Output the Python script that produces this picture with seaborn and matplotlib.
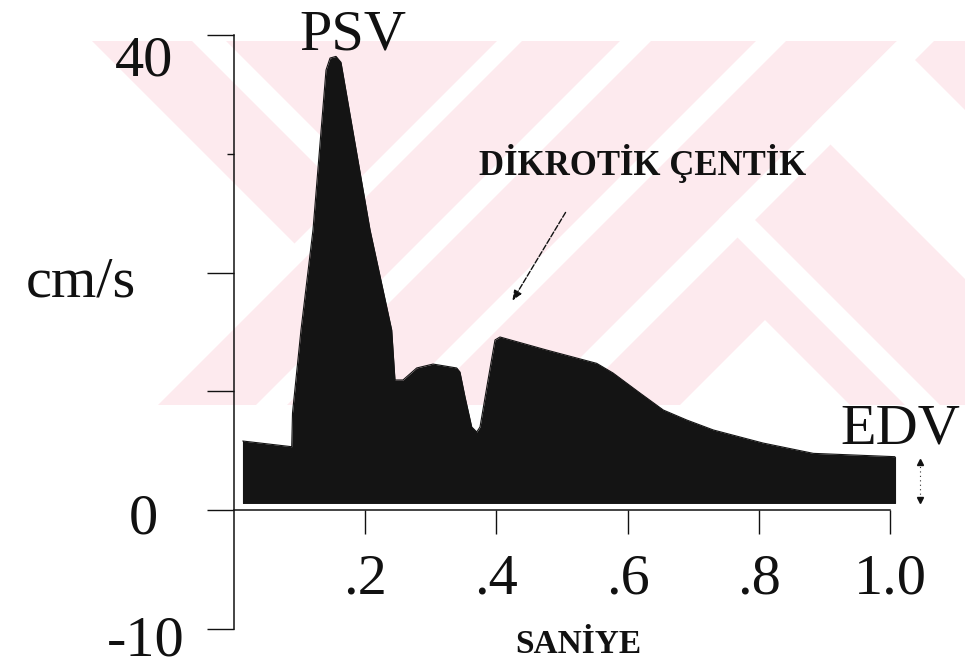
import matplotlib
matplotlib.use("Agg")
import matplotlib.pyplot as plt
from matplotlib.patches import Rectangle, Polygon
import seaborn as sns
import pandas as pd

# ---------------- data ----------------
time_s = [0.014, 0.0886, 0.0898, 0.1027, 0.121, 0.1408, 0.1469, 0.156, 0.1636,
          0.2078, 0.2408, 0.2458, 0.258, 0.2788, 0.3037, 0.3397, 0.3447, 0.3524,
          0.3626, 0.3702, 0.3752, 0.3874, 0.398, 0.4056, 0.4767, 0.5528, 0.5776,
          0.6187, 0.6542, 0.6898, 0.7303, 0.8059, 0.8825, 1.0068]
velocity_cms = [5.81, 5.33, 8.17, 15.16, 23.6, 37.05, 38.06, 38.2, 37.7,
                23.6, 15.16, 10.95, 10.95, 11.96, 12.29, 11.96, 11.62, 9.52,
                6.99, 6.57, 6.99, 10.95, 14.32, 14.57, 13.47, 12.35, 11.54,
                9.85, 8.42, 7.58, 6.74, 5.64, 4.77, 4.49]
baseline_cms = 0.55
x_ticks = [0.2, 0.4, 0.6, 0.8, 1.0]
x_tick_labels = [".2", ".4", ".6", ".8", "1.0"]
y_ticks = [-10, 0, 10, 20, 40]
y_minor_ticks = [30]
y_labels = ["40", "cm/s", "0", "-10"]
y_label_pos = [(-0.1362, 36.63), (-0.2321, 17.94), (-0.1377, -1.94), (-0.1332, -12.25)]
psv_label, psv_pos = "PSV", (0.182, 38.74)
edv_label, edv_pos = "EDV", (1.0145, 5.64)
notch_label, notch_pos = "DİKROTİK ÇENTİK", (0.6233, 28.21)
notch_arrow_from, notch_arrow_to = (0.5076, 25.26), (0.4224, 17.43)
edv_arrow_t, edv_arrow_v = 1.0449, (4.04, 0.84)
x_title, x_title_pos = "SANİYE", (0.5244, -12.04)

df = pd.DataFrame({"t": time_s, "v": velocity_cms})

# ---------------- figure ----------------
sns.set_style("ticks")
plt.rcParams["font.family"] = ["Liberation Serif", "DejaVu Serif"]
W, H = 965, 669
fig = plt.figure(figsize=(W / 100, H / 100), dpi=100, facecolor="white")

# faint watermark in the background (pixel geometry of the scan)
def fp(pts):
    return [(x / W, 1 - y / H) for x, y in pts]

pink = "#fdeaee"
band = Rectangle((0, 1 - 405 / H), 1, (405 - 41) / H, transform=fig.transFigure,
                 facecolor=pink, edgecolor="none", zorder=-3)
fig.add_artist(band)
white_shapes = [
    [(-200, -100), (-49, -100), (300.5, 249.5), (-150, 700), (-200, 700)],
    [(51, -100), (85, -100), (374, 189), (344.5, 193.5)],
    [(812, 126), (896.5, 41.5), (1555, 700), (1386, 700)],
    [(719, 219), (736.5, 201.5), (1235, 700), (1200, 700)],
    [(765, 320), (385, 700), (1145, 700)],
]
for s1, s2 in [(538, 563), (661, 692), (797, 827), (938, 975)]:
    white_shapes.append([(s1 + 100, -100), (s2 + 100, -100), (s2 - 700, 700), (s1 - 700, 700)])
for shp in white_shapes:
    p = Polygon(fp(shp), closed=True, transform=fig.transFigure,
                facecolor="white", edgecolor="none", zorder=-2)
    fig.add_artist(p)
    p.set_clip_path(band)

ax = fig.add_axes([0.20793, 0.06016, 0.78295, 0.8875])
ax.set_facecolor("none")

fill_color = "#141414"
ax.fill_between(df["t"], baseline_cms, df["v"], color=fill_color, linewidth=0, zorder=2)
sns.lineplot(data=df, x="t", y="v", ax=ax, color=fill_color, linewidth=0.8,
             sort=False, estimator=None, zorder=3)
ax.plot([time_s[0], time_s[0]], [baseline_cms, velocity_cms[0]], color=fill_color, lw=0.8)
ax.plot([time_s[-1], time_s[-1]], [baseline_cms, velocity_cms[-1]], color=fill_color, lw=0.8)

ax.set_xlim(-0.05, 1.1)
ax.set_ylim(-10, 40)

for side in ["top", "right"]:
    ax.spines[side].set_visible(False)
ax.spines["left"].set_position(("data", 0))
ax.spines["bottom"].set_position(("data", 0))
ax.spines["left"].set_bounds(-10, 40)
ax.spines["bottom"].set_bounds(0, 1.0)
for side in ["left", "bottom"]:
    ax.spines[side].set_linewidth(1.1)
    ax.spines[side].set_color("#111111")

ax.set_yticks(y_ticks)
ax.set_yticklabels([""] * len(y_ticks))
ax.set_yticks(y_minor_ticks, minor=True)
ax.tick_params(axis="y", which="major", direction="out", length=19.5, width=1.0, color="#111111")
ax.tick_params(axis="y", which="minor", direction="out", length=5, width=1.0, color="#111111")
ax.set_xticks(x_ticks)
ax.set_xticklabels(x_tick_labels)
ax.tick_params(axis="x", which="major", direction="out", length=17, width=1.0,
               color="#111111", labelsize=42, pad=14, labelcolor="#111111")
ax.set_xlabel("")
ax.set_ylabel("")

for txt, (tx, ty) in zip(y_labels, y_label_pos):
    ax.text(tx, ty, txt, ha="center", va="baseline", fontsize=42, color="#111111", clip_on=False)

ax.text(*psv_pos, psv_label, ha="center", va="baseline", fontsize=42, color="#111111", clip_on=False)
ax.text(*edv_pos, edv_label, ha="center", va="baseline", fontsize=42, color="#111111", clip_on=False)
ax.text(*notch_pos, notch_label, ha="center", va="baseline", fontsize=25, fontweight="bold",
        color="#111111", clip_on=False)
ax.text(*x_title_pos, x_title, ha="center", va="baseline", fontsize=24, fontweight="bold",
        color="#111111", clip_on=False)

ax.annotate("", xy=notch_arrow_to, xytext=notch_arrow_from,
            arrowprops=dict(arrowstyle="-|>,head_length=0.6,head_width=0.25",
                            color="#111111", lw=1.0, linestyle=(0, (4, 1.5))))

ax.plot([edv_arrow_t, edv_arrow_t], list(edv_arrow_v), color="#333333", lw=0.8,
        linestyle=(0, (1, 3)), clip_on=False)
ax.plot([edv_arrow_t], [edv_arrow_v[0]], marker="^", color="#111111", markersize=5, clip_on=False)
ax.plot([edv_arrow_t], [edv_arrow_v[1]], marker="v", color="#111111", markersize=5, clip_on=False)

fig.savefig("out.png", dpi=100, facecolor="white")
